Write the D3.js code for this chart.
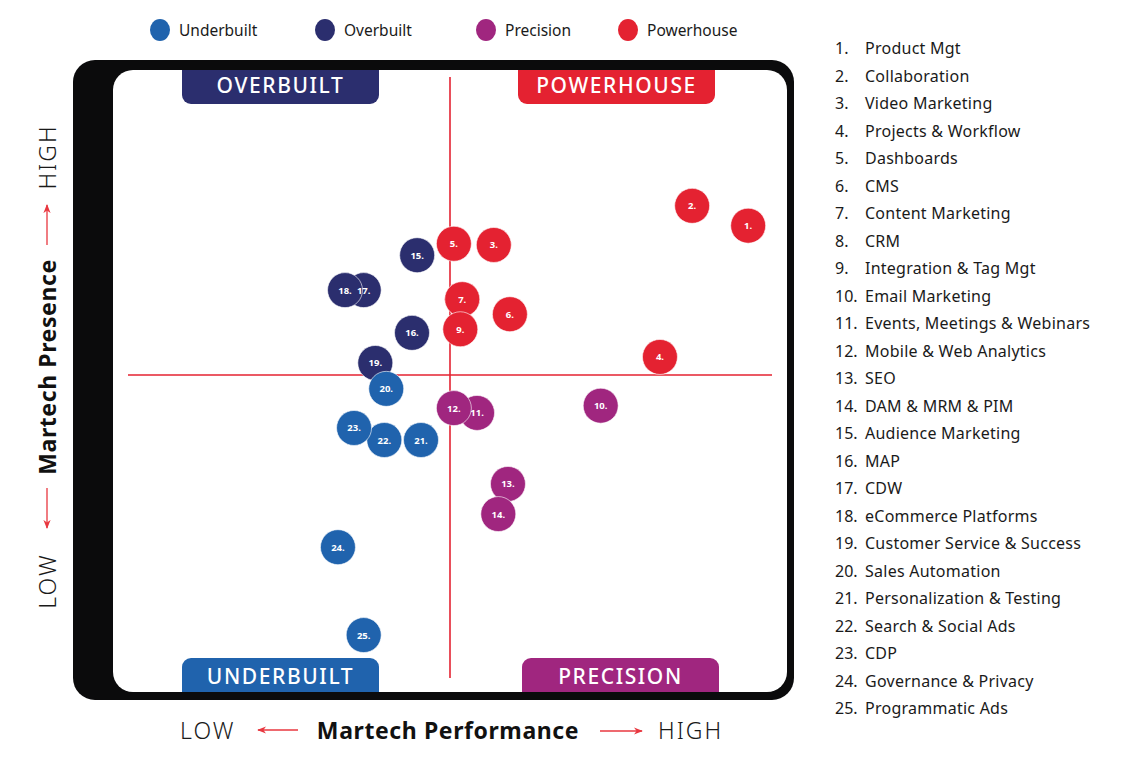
<!DOCTYPE html>
<html>
<head>
<meta charset="utf-8">
<script src="https://cdn.jsdelivr.net/npm/d3@7"></script>
<style>
  body { margin: 0; background: #fff; }
  svg { display: block; font-family: "Noto Sans", Lato, sans-serif; }
</style>
</head>
<body>
<div id="viz"></div>
<script>
// categories shown in the right hand list
var toolNames = ["Product Mgt", "Collaboration", "Video Marketing", "Projects & Workflow",
  "Dashboards", "CMS", "Content Marketing", "CRM", "Integration & Tag Mgt", "Email Marketing",
  "Events, Meetings & Webinars", "Mobile & Web Analytics", "SEO", "DAM & MRM & PIM",
  "Audience Marketing", "MAP", "CDW", "eCommerce Platforms", "Customer Service & Success",
  "Sales Automation", "Personalization & Testing", "Search & Social Ads", "CDP",
  "Governance & Privacy", "Programmatic Ads"];

// performance (x) and presence (y), 0..10
// (8. CRM is not visible in the picture, it sits under 7.)
var performance = [9.63, 8.76, 5.68, 8.26, 5.06, 5.93, 5.19, 5.19, 5.16, 7.34,
  5.42, 5.06, 5.90, 5.75, 4.49, 4.41, 3.66, 3.37, 3.84, 4.01,
  4.55, 3.98, 3.51, 3.26, 3.66];
var presence = [7.48, 7.81, 7.16, 5.30, 7.18, 6.01, 6.26, 6.26, 5.76, 4.49,
  4.37, 4.45, 3.19, 2.69, 6.99, 5.70, 6.41, 6.41, 5.20, 4.77,
  3.92, 3.92, 4.12, 2.14, 0.68];
var quadrant = ["Powerhouse", "Powerhouse", "Powerhouse", "Powerhouse", "Powerhouse",
  "Powerhouse", "Powerhouse", "Powerhouse", "Powerhouse", "Precision",
  "Precision", "Precision", "Precision", "Precision", "Overbuilt",
  "Overbuilt", "Overbuilt", "Overbuilt", "Overbuilt", "Underbuilt",
  "Underbuilt", "Underbuilt", "Underbuilt", "Underbuilt", "Underbuilt"];

var legendNames = ["Underbuilt", "Overbuilt", "Precision", "Powerhouse"];
var legendColors = ["#2063ad", "#2b2e6e", "#a0267f", "#e42231"];

var points = toolNames.map(function(n, i) {
  return {id: i + 1, name: n, x: performance[i], y: presence[i], q: quadrant[i]};
});
// hidden bubble drawn first
var drawOrder = points.slice().sort(function(a, b) {
  return (a.id === 8 ? 0 : a.id) - (b.id === 8 ? 0 : b.id);
});

var color = d3.scaleOrdinal().domain(legendNames).range(legendColors);

var svg = d3.select("#viz").append("svg")
  .attr("width", 1144)
  .attr("height", 772);

var x = d3.scaleLinear().domain([0, 10]).range([128, 772]);
var y = d3.scaleLinear().domain([0, 10]).range([676, 74]);

// frame
svg.append("rect")
  .attr("x", 73).attr("y", 60)
  .attr("width", 721).attr("height", 640)
  .attr("rx", 22)
  .style("fill", "#0b0b0c");
svg.append("rect")
  .attr("x", 113).attr("y", 70)
  .attr("width", 674).attr("height", 622)
  .attr("rx", 20)
  .style("fill", "#fff");

// quadrant lines
svg.append("line")
  .attr("x1", x(0)).attr("x2", x(10))
  .attr("y1", y(5)).attr("y2", y(5))
  .style("stroke", "#e42231").style("stroke-width", 1.6);
svg.append("line")
  .attr("x1", x(5)).attr("x2", x(5))
  .attr("y1", 77).attr("y2", 678)
  .style("stroke", "#e42231").style("stroke-width", 1.6);

// tab shape with two rounded corners, on the bottom (top tabs) or top (bottom tabs)
function tabPath(x0, y0, w, h, r, roundBottom) {
  var p = d3.path();
  if (roundBottom) {
    p.moveTo(x0, y0);
    p.lineTo(x0 + w, y0);
    p.lineTo(x0 + w, y0 + h - r);
    p.arcTo(x0 + w, y0 + h, x0 + w - r, y0 + h, r);
    p.lineTo(x0 + r, y0 + h);
    p.arcTo(x0, y0 + h, x0, y0 + h - r, r);
  } else {
    p.moveTo(x0, y0 + h);
    p.lineTo(x0, y0 + r);
    p.arcTo(x0, y0, x0 + r, y0, r);
    p.lineTo(x0 + w - r, y0);
    p.arcTo(x0 + w, y0, x0 + w, y0 + r, r);
    p.lineTo(x0 + w, y0 + h);
  }
  p.closePath();
  return p.toString();
}

var tabs = [
  {label: "OVERBUILT", q: "Overbuilt", x: 182, y: 70, top: true},
  {label: "POWERHOUSE", q: "Powerhouse", x: 518, y: 70, top: true},
  {label: "UNDERBUILT", q: "Underbuilt", x: 182, y: 658, top: false},
  {label: "PRECISION", q: "Precision", x: 522, y: 658, top: false}
];
var tabG = svg.selectAll("g.tab").data(tabs).enter().append("g").attr("class", "tab");
tabG.append("path")
  .attr("d", function(d) { return tabPath(d.x, d.y, 197, 34, 9, d.top); })
  .style("fill", function(d) { return color(d.q); });
tabG.append("text")
  .attr("x", function(d) { return d.x + 98.5; })
  .attr("y", function(d) { return d.top ? d.y + 22.5 : d.y + 25.5; })
  .attr("text-anchor", "middle")
  .style("fill", "#fff")
  .style("font-size", "21px")
  .style("font-weight", 500)
  .style("letter-spacing", "1.6px")
  .text(function(d) { return d.label; });

// bubbles: circles first, labels on top
var bub = svg.selectAll("g.bub").data(drawOrder).enter().append("g")
  .attr("class", "bub")
  .attr("transform", function(d) { return "translate(" + x(d.x) + "," + y(d.y) + ")"; });
bub.append("circle")
  .attr("r", 17.5)
  .style("fill", function(d) { return color(d.q); })
  .style("stroke", "#fff")
  .style("stroke-width", 0.6);
svg.selectAll("text.bl").data(drawOrder.filter(function(d) { return d.id !== 8; }))
  .enter().append("text")
  .attr("class", "bl")
  .attr("x", function(d) { return x(d.x); })
  .attr("y", function(d) { return y(d.y) + 3.5; })
  .attr("text-anchor", "middle")
  .style("fill", "#fff")
  .style("font-size", "9.5px")
  .style("font-weight", 700)
  .text(function(d) { return d.id + "."; });

// top legend
var legX = [160, 325, 486, 628];
var leg = svg.selectAll("g.leg").data(legendNames).enter().append("g")
  .attr("class", "leg")
  .attr("transform", function(d, i) { return "translate(" + legX[i] + ",30)"; });
leg.append("ellipse")
  .attr("rx", 10).attr("ry", 11)
  .style("fill", function(d) { return color(d); });
leg.append("text")
  .attr("x", 19).attr("y", 5.5)
  .style("font-size", "15.5px")
  .style("fill", "#1a1a1a")
  .text(function(d) { return d; });

// numbered list on the right
var list = svg.selectAll("g.item").data(points).enter().append("g")
  .attr("class", "item")
  .attr("transform", function(d, i) { return "translate(835," + (48 + i * 27.5) + ")"; });
list.append("text")
  .attr("y", 6)
  .style("font-size", "16px")
  .style("fill", "#1a1a1a")
  .text(function(d) { return d.id + "."; });
list.append("text")
  .attr("x", 30).attr("y", 6)
  .style("font-size", "16px")
  .style("letter-spacing", "0.25px")
  .style("fill", "#1a1a1a")
  .text(function(d) { return d.name; });

// axis titles
svg.append("defs").append("marker")
  .attr("id", "arr")
  .attr("viewBox", "0 0 10 10")
  .attr("refX", 9).attr("refY", 5)
  .attr("markerWidth", 9).attr("markerHeight", 9)
  .attr("markerUnits", "userSpaceOnUse")
  .attr("orient", "auto")
  .append("path")
  .attr("d", "M0,1 L10,5 L0,9 L3,5 Z")
  .style("fill", "#e8373f");

function arrow(x1, y1, x2, y2) {
  svg.append("line")
    .attr("x1", x1).attr("y1", y1).attr("x2", x2).attr("y2", y2)
    .style("stroke", "#e8373f").style("stroke-width", 1.3)
    .attr("marker-end", "url(#arr)");
}

function lightText(g, tx, ty, anchor, s) {
  g.append("text").attr("x", tx).attr("y", ty).attr("text-anchor", anchor)
    .style("font-size", "23px").style("font-weight", 300)
    .style("letter-spacing", "2px").style("fill", "#1a1a1a")
    .text(s);
}

var bx = svg.append("g");
lightText(bx, 180, 739, "start", "LOW");
arrow(298, 730, 258, 730);
bx.append("text").attr("x", 448).attr("y", 739).attr("text-anchor", "middle")
  .style("font-size", "23px").style("font-weight", 700)
  .style("letter-spacing", "0.6px").style("fill", "#111")
  .text("Martech Performance");
arrow(600, 731, 642, 731);
lightText(bx, 658, 739, "start", "HIGH");

var ly = svg.append("g").attr("transform", "translate(56,0) rotate(-90)");
lightText(ly, -581, 0, "middle", "LOW");
ly.append("text").attr("x", -367).attr("y", 0).attr("text-anchor", "middle")
  .style("font-size", "23px").style("font-weight", 700)
  .style("letter-spacing", "0.6px").style("fill", "#111")
  .text("Martech Presence");
lightText(ly, -157, 0, "middle", "HIGH");
arrow(47, 245, 47, 205);
arrow(47, 488, 47, 528);
</script>
</body>
</html>
